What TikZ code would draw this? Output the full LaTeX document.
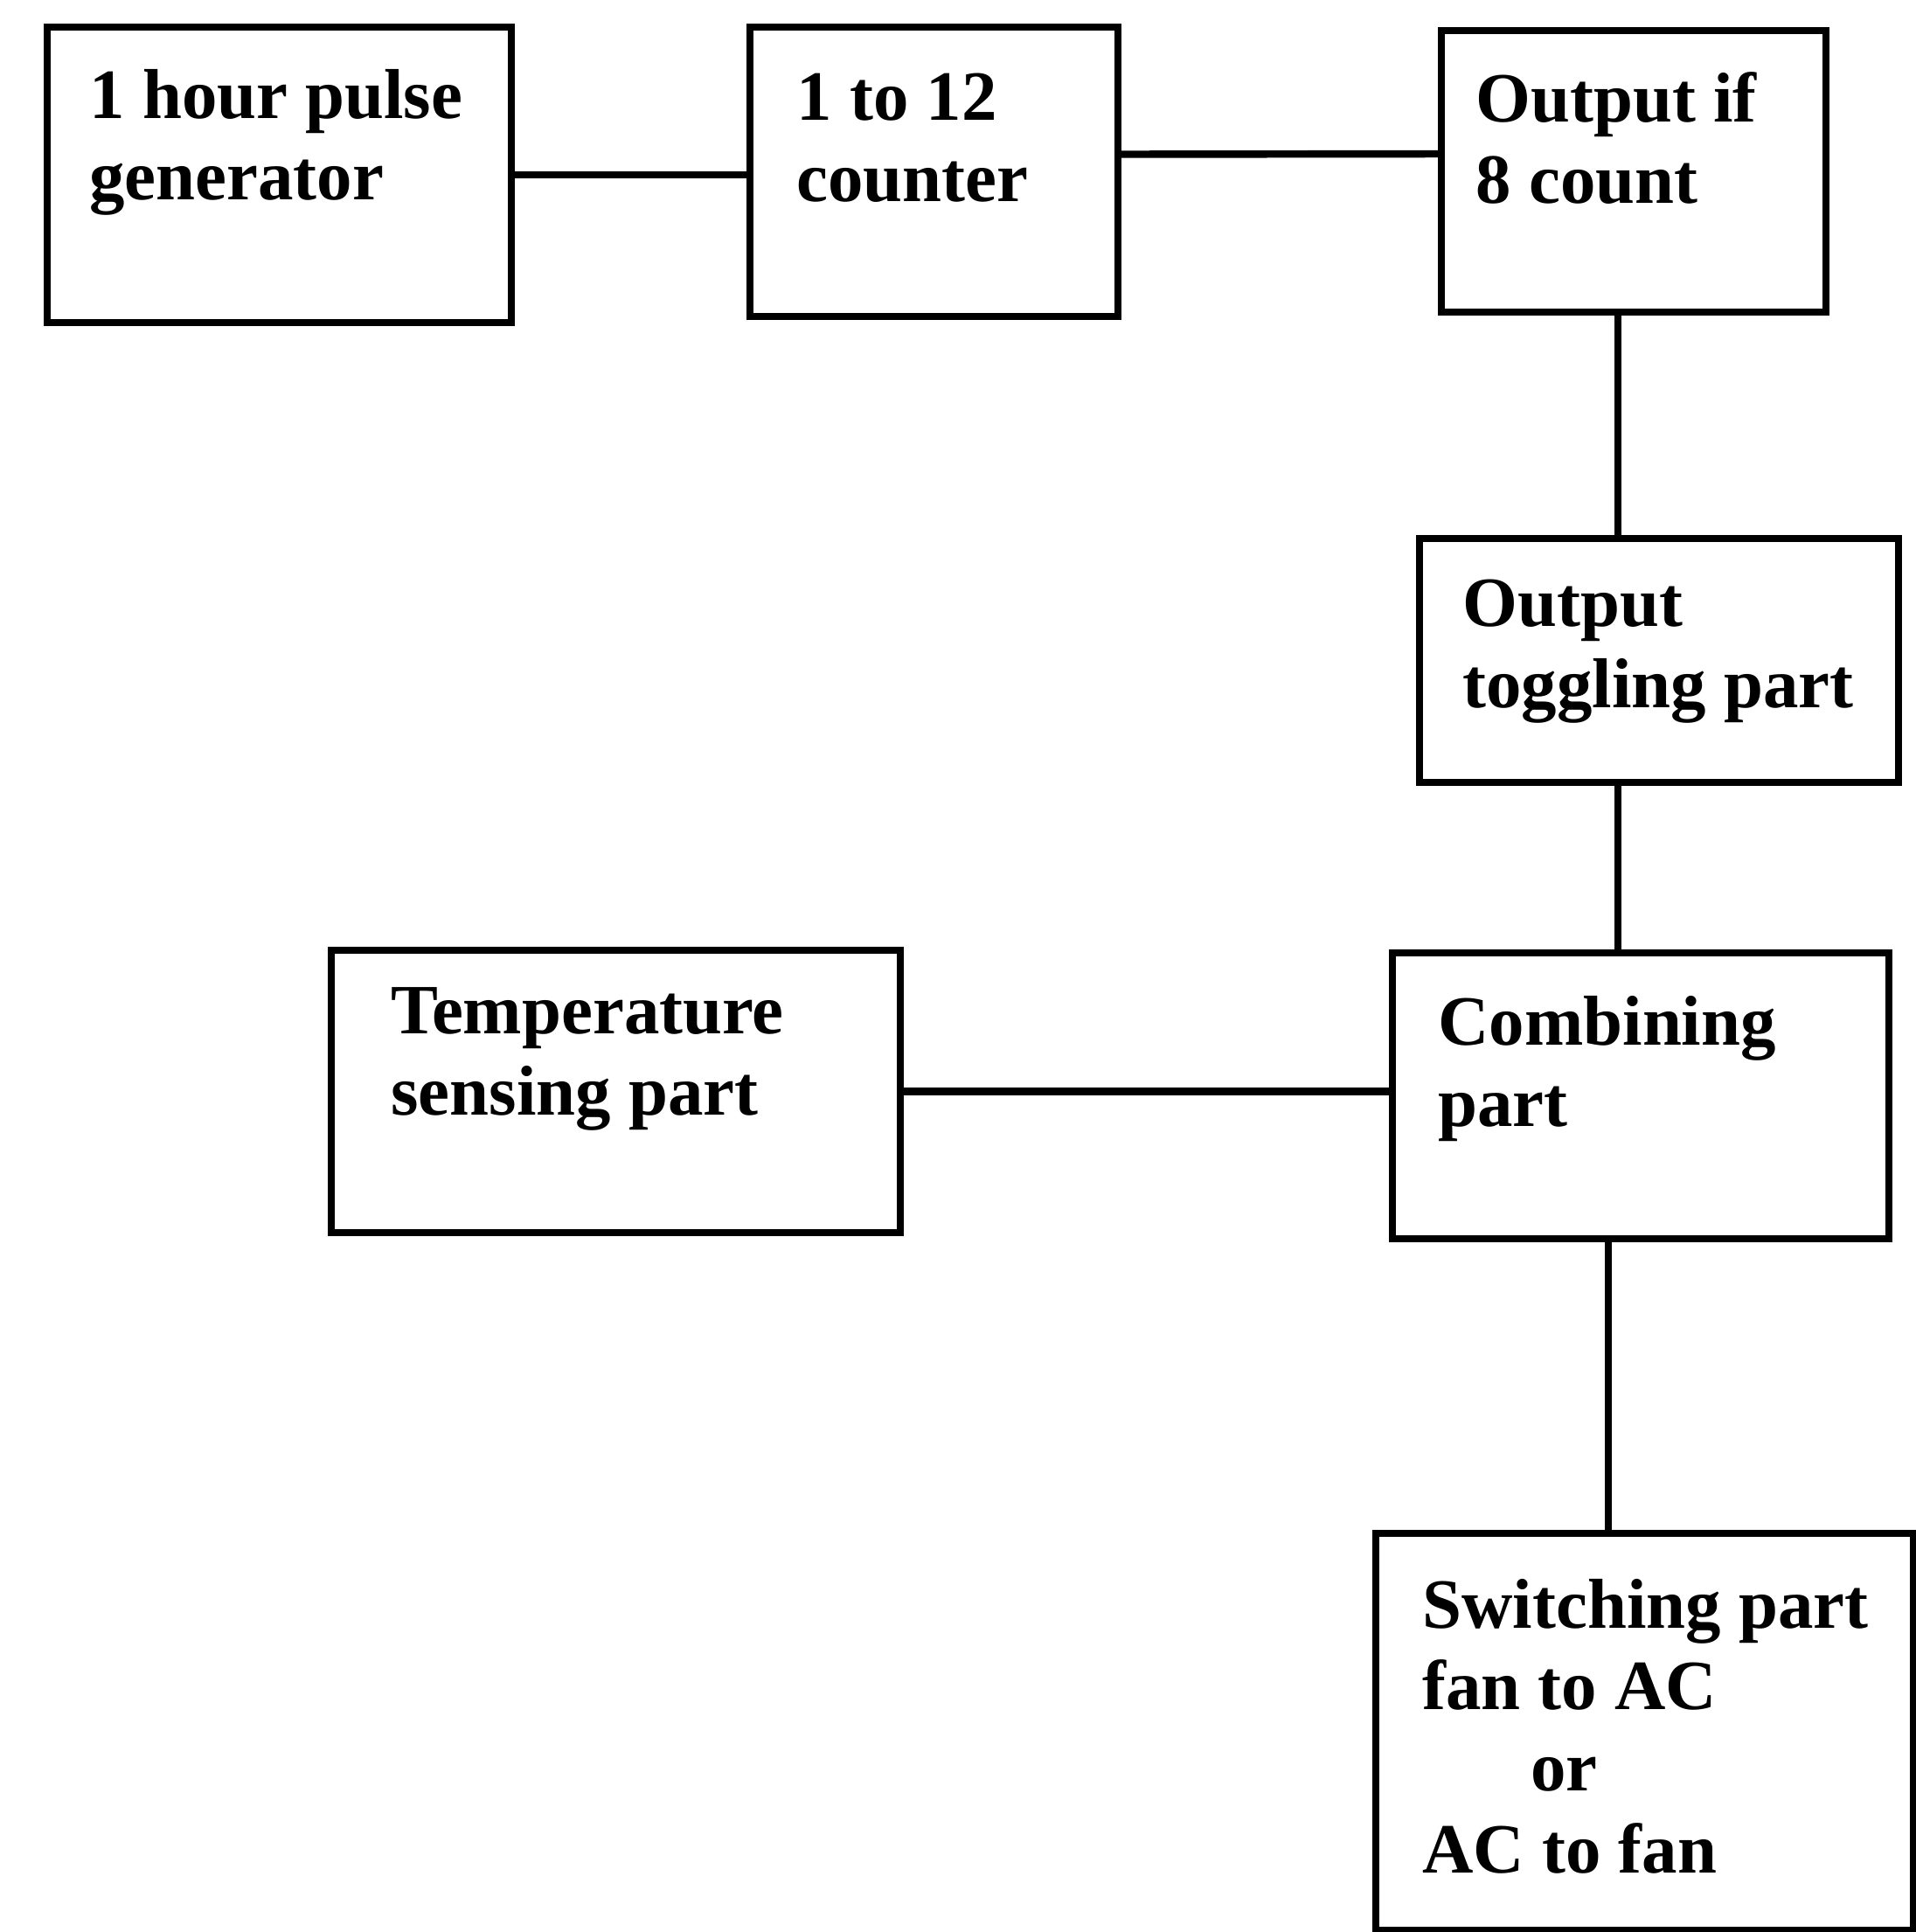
\documentclass[tikz,border=0pt]{standalone}
\usepackage{fontspec}
\setmainfont{Liberation Serif}
\usepackage{tikz}
\usetikzlibrary{
  positioning,
  calc
}

\begin{document}
\begin{tikzpicture}[
  % --- node styles ---
  block/.style={
    draw=black, line width=2.4pt, fill=white,
    inner sep=0pt
  },
  blocktext/.style={
    anchor=north west, inner sep=0pt, align=left,
    font=\fontsize{23}{26.5}\selectfont\bfseries
  },
  link/.style={draw=black, line width=2.4pt},
]
\useasboundingbox[fill=white] (0,0) rectangle (21.92,-22.10);

% Row 1: pulse generator, counter, count detector
\node[block, minimum width=5.31cm, minimum height=3.38cm] (gen) at (3.195,-2.00) {};
\node[block, minimum width=4.21cm, minimum height=3.31cm] (counter) at (10.685,-1.965) {};
\node[block, minimum width=4.40cm, minimum height=3.22cm] (eight) at (18.69,-1.96) {};

% Row 2: toggling
\node[block, minimum width=5.48cm, minimum height=2.79cm] (toggle) at (18.98,-7.555) {};

% Row 3: temperature + combining
\node[block, minimum width=6.51cm, minimum height=3.23cm] (temp) at (7.045,-12.485) {};
\node[block, minimum width=5.68cm, minimum height=3.27cm] (combine) at (18.77,-12.535) {};

% Row 4: switching
\node[block, minimum width=6.15cm, minimum height=4.54cm] (switch) at (18.815,-19.81) {};

% ─── Texts ───────────────────────────────────────────────────────────────
\node[blocktext] (genlbl) at ([shift={(0.52,-0.52)}]gen.north west) {1 hour pulse\\generator};
\node[blocktext] (counterlbl) at ([shift={(0.57,-0.56)}]counter.north west) {1 to 12\\counter};
\node[blocktext] (eightlbl) at ([shift={(0.43,-0.51)}]eight.north west) {Output if\\8 count};
\node[blocktext] (togglelbl) at ([shift={(0.53,-0.50)}]toggle.north west) {Output\\toggling part};
\node[blocktext] (templbl) at ([shift={(0.72,-0.46)}]temp.north west) {Temperature\\sensing part};
\node[blocktext] (combinelbl) at ([shift={(0.56,-0.53)}]combine.north west) {Combining\\part};
\node[blocktext] (switchlbl) at ([shift={(0.57,-0.56)}]switch.north west)
  {Switching part\\fan to AC\\\hspace*{1.24cm}or\\AC to fan};

% ─── Connectors ──────────────────────────────────────────────────────────
\draw[link] (gen.east) -- (counter.west |- gen.east);
\draw[link] ([yshift=0.2cm]counter.east) -- ([yshift=0.2cm]eight.west);
\draw[link] ([xshift=-0.18cm]eight.south) coordinate (drop) -- (drop |- toggle.north);
\draw[link] (drop |- toggle.south) -- (drop |- combine.north);
\draw[link] (temp.east) -- (combine.west |- temp.east);
\draw[link] ([xshift=-0.37cm]combine.south) -- ([xshift=-0.37cm]combine.south |- switch.north);

\end{tikzpicture}
\end{document}
